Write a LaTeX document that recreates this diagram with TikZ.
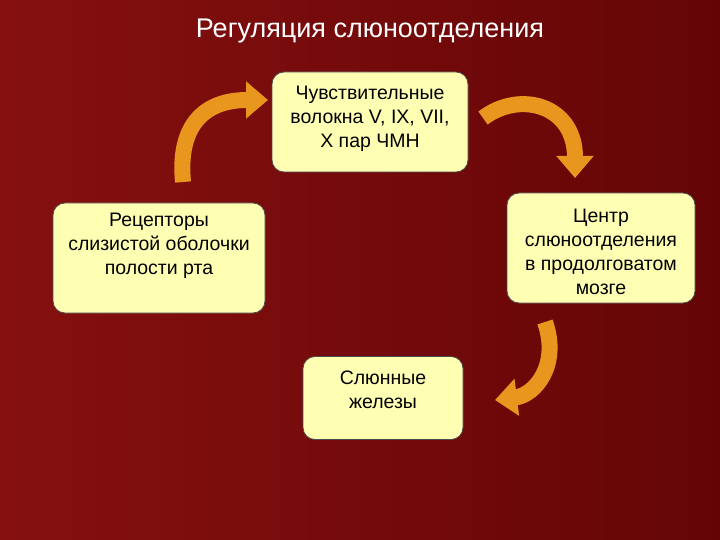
\documentclass[tikz,border=0pt]{standalone}
\usepackage{fontspec}
\setmainfont{Liberation Sans}
\usetikzlibrary{arrows.meta}
\definecolor{bgl}{HTML}{861010}
\definecolor{bgr}{HTML}{640505}
\definecolor{boxc}{HTML}{FFFFB4}
\definecolor{arr}{HTML}{E8961E}
\begin{document}
\begin{tikzpicture}[x=1pt,y=-1pt,
  box/.style={draw=black!70,line width=0.8pt,fill=boxc,rounded corners=12pt},
  lbl/.style={font=\fontsize{19.5}{24}\selectfont,align=center,text=black},
  barrow/.style={arr,line width=16pt,-{Triangle[width=36pt,length=22pt]}}]
\shade[left color=bgl,right color=bgr] (0,0) rectangle (720,540);
\useasboundingbox (0,0) rectangle (720,540);
\node[text=white,font=\fontsize{27}{32}\selectfont] (title) at (370,31) {Регуляция слюноотделения};
\node[box,minimum width=196pt,minimum height=100pt] (top) at (370,122) {};
\node[lbl] (tt) at (370,119) {Чувствительные\\волокна V, IX, VII,\\X пар ЧМН};
\node[box,minimum width=212pt,minimum height=110pt] (left) at (159,258) {};
\node[lbl] (lt) at (159,246) {Рецепторы\\слизистой оболочки\\полости рта};
\node[box,minimum width=188pt,minimum height=110pt] (right) at (601,248) {};
\node[lbl] (rt) at (601,252) {Центр\\слюноотделения\\в продолговатом\\мозге};
\node[box,minimum width=160pt,minimum height=83pt] (bot) at (383,398) {};
\node[lbl] (bt) at (383,390) {Слюнные\\железы};
\coordinate (a1) at (183,182); \coordinate (a2) at (268,100);
\draw[barrow] (a1) .. controls (178,130) and (200,100) .. (a2);
\coordinate (b1) at (483,118); \coordinate (b2) at (575,178);
\draw[barrow] (b1) .. controls (520,90) and (575,105) .. (b2);
\coordinate (c1) at (545,322); \coordinate (c2) at (495,400);
\draw[barrow] (c1) .. controls (560,365) and (535,395) .. (c2);
\end{tikzpicture}
\end{document}
